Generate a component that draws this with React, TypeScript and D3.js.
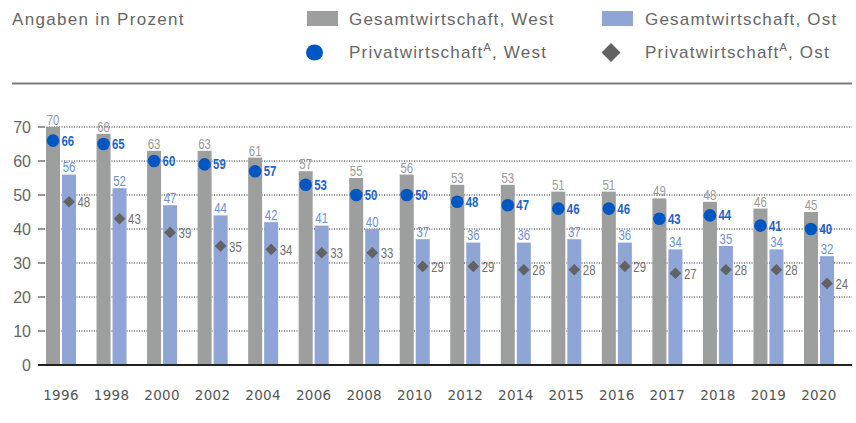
import React from "react";
import * as d3 from "d3";

const years = ["1996","1998","2000","2002","2004","2006","2008","2010","2012","2014","2015","2016","2017","2018","2019","2020"];
const gesamtWest = [70,68,63,63,61,57,55,56,53,53,51,51,49,48,46,45];
const gesamtOst = [56,52,47,44,42,41,40,37,36,36,37,36,34,35,34,32];
const privatWest = [66,65,60,59,57,53,50,50,48,47,46,46,43,44,41,40];
const privatOst = [48,43,39,35,34,33,33,29,29,28,28,29,27,28,28,24];
const yTicks = [0,10,20,30,40,50,60,70];

const W = 856, H = 423;
const C_GRAY = "#9d9e9e";
const C_BLUE = "#8ea5d6";
const C_DOT = "#0057c1";
const C_DIA = "#626262";
const C_TEXT = "#666666";
const SANS = "'Liberation Sans', Arial, sans-serif";

function CText(props: { x: number; y: number; anchor?: string; fill: string; bold?: boolean; children: React.ReactNode }) {
  return (
    <text
      transform={`translate(${props.x},${props.y}) scale(0.76,1)`}
      textAnchor={props.anchor || "start"}
      fontFamily={SANS}
      fontSize={15}
      fontWeight={props.bold ? "bold" : "normal"}
      fill={props.fill}
    >
      {props.children}
    </text>
  );
}

export default function App() {
  const x = d3.scaleBand<string>().domain(years).range([46, 834]).paddingInner(0.406).paddingOuter(0);
  const sub = d3.scaleBand<string>().domain(["west", "ost"]).range([0, x.bandwidth()]).paddingInner(0.125);
  const y = d3.scaleLinear().domain([0, 70]).range([365, 127]);
  const bw = sub.bandwidth();
  const dia = (cx: number, cy: number, r: number) => `M${cx},${cy - r}L${cx + r},${cy}L${cx},${cy + r}L${cx - r},${cy}Z`;

  return (
    <svg width={W} height={H} viewBox={`0 0 ${W} ${H}`} style={{ position: "absolute", left: 0, top: 0, background: "#fff" }}>
      {/* header */}
      <text x={12} y={25} fontFamily={SANS} fontSize={17} letterSpacing={1.3} fill={C_TEXT}>Angaben in Prozent</text>
      <rect x={307} y={11} width={31} height={15} fill={C_GRAY} />
      <text x={349} y={25} fontFamily={SANS} fontSize={17} letterSpacing={1.2} fill={C_TEXT}>Gesamtwirtschaft, West</text>
      <rect x={602} y={11} width={31} height={15} fill={C_BLUE} />
      <text x={645} y={25} fontFamily={SANS} fontSize={17} letterSpacing={1.2} fill={C_TEXT}>Gesamtwirtschaft, Ost</text>
      <ellipse cx={314.5} cy={52.5} rx={8.5} ry={8} fill={C_DOT} />
      <text x={349} y={58} fontFamily={SANS} fontSize={17} letterSpacing={1.2} fill={C_TEXT}>
        Privatwirtschaft<tspan fontSize={11} dy={-7}>A</tspan><tspan dy={7}>, West</tspan>
      </text>
      <path d={dia(611, 52.5, 9.5)} fill={C_DIA} />
      <text x={645} y={58} fontFamily={SANS} fontSize={17} letterSpacing={1.2} fill={C_TEXT}>
        Privatwirtschaft<tspan fontSize={11} dy={-7}>A</tspan><tspan dy={7}>, Ost</tspan>
      </text>
      <line x1={12} x2={852} y1={83.5} y2={83.5} stroke="#7a7a7a" strokeWidth={2} />

      {/* y axis grid */}
      {yTicks.map((t) => (
        <g key={t}>
          {t > 0 && (
            <>
              <line x1={38} x2={44} y1={y(t)} y2={y(t)} stroke="#333" strokeWidth={1} />
              <line x1={44} x2={852} y1={y(t)} y2={y(t)} stroke="#222" strokeWidth={1} strokeDasharray="1 1.5" />
            </>
          )}
          <text x={31} y={y(t) + 5.5} textAnchor="end" fontFamily={SANS} fontSize={16} fill={C_TEXT}>{t}</text>
        </g>
      ))}

      {/* bars */}
      {years.map((yr, i) => {
        const x0 = x(yr)!;
        const gx = x0 + sub("west")!;
        const ox = x0 + sub("ost")!;
        return (
          <g key={yr}>
            <rect x={gx} y={y(gesamtWest[i])} width={bw} height={y(0) - y(gesamtWest[i])} fill={C_GRAY} />
            <rect x={ox} y={y(gesamtOst[i])} width={bw} height={y(0) - y(gesamtOst[i])} fill={C_BLUE} />
          </g>
        );
      })}

      <line x1={38} x2={852} y1={365} y2={365} stroke="#222" strokeWidth={2} />

      {/* markers and labels */}
      {years.map((yr, i) => {
        const x0 = x(yr)!;
        const gc = x0 + sub("west")! + bw / 2;
        const oc = x0 + sub("ost")! + bw / 2;
        return (
          <g key={"m" + yr}>
            <CText x={gc} y={y(gesamtWest[i]) - 2} anchor="middle" fill="#9a9a9a">{gesamtWest[i]}</CText>
            <CText x={oc} y={y(gesamtOst[i]) - 2.5} anchor="middle" fill="#6f8fd3">{gesamtOst[i]}</CText>
            <circle cx={gc} cy={y(privatWest[i])} r={6.3} fill={C_DOT} />
            <CText x={gc + 8.5} y={y(privatWest[i]) + 5} fill="#1e63c8" bold>{privatWest[i]}</CText>
            <path d={dia(oc, y(privatOst[i]), 5.8)} fill={C_DIA} />
            <CText x={oc + 8.5} y={y(privatOst[i]) + 5.5} fill="#707070">{privatOst[i]}</CText>
            <text x={x0 + x.bandwidth() / 2} y={400} textAnchor="middle" fontFamily="'DejaVu Sans', sans-serif" fontSize={13.5} letterSpacing={0.3} fill="#555">{yr}</text>
          </g>
        );
      })}
    </svg>
  );
}
